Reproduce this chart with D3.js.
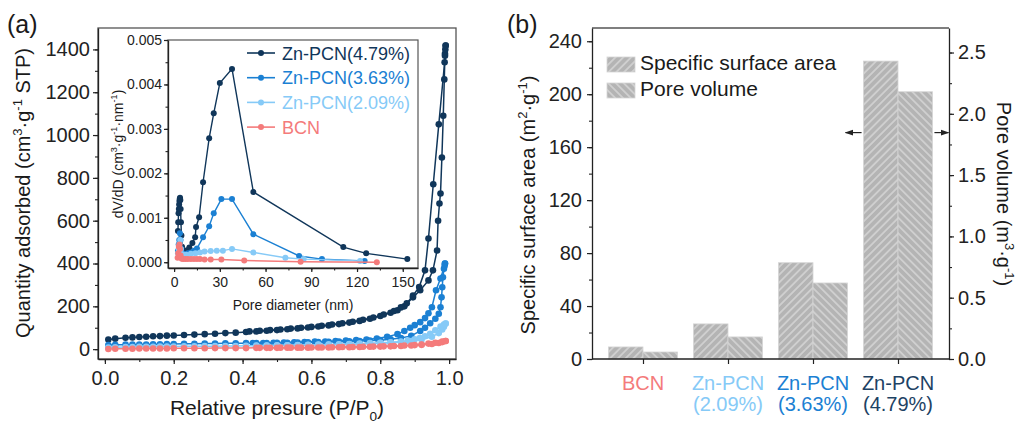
<!DOCTYPE html>
<html>
<head>
<meta charset="utf-8">
<script src="https://cdn.jsdelivr.net/npm/d3@7"></script>
<style>
  body { margin: 0; background: #fff; }
  svg text { font-family: Arial, "Liberation Sans", sans-serif; fill: #1a1a1a; }
</style>
</head>
<body>
<script>
// ---------------- data ----------------
const seriesNames = ['Zn-PCN(4.79%)', 'Zn-PCN(3.63%)', 'Zn-PCN(2.09%)', 'BCN'];
const seriesColors = ['#10365a', '#1b80d3', '#86caf7', '#f47b7b'];

// N2 isotherms [P/P0, quantity]
const ads479 = [[0.01,45],[0.03,49],[0.06,53],[0.08,55],[0.10,57],[0.12,58],[0.14,60],[0.16,61],[0.18,63],[0.20,64],[0.23,66],[0.26,68],[0.29,70],[0.32,72],[0.35,75],[0.38,77],[0.41,80],[0.44,83],[0.47,86],[0.50,89],[0.53,93],[0.56,97],[0.59,101],[0.62,106],[0.65,111],[0.68,117],[0.71,124],[0.74,132],[0.77,142],[0.80,155],[0.83,170],[0.85,182],[0.87,200],[0.895,242],[0.916,275],[0.94,321],[0.953,368],[0.965,461],[0.968,600],[0.972,680],[0.975,727],[0.979,895],[0.983,1090],[0.986,1260],[0.988,1380],[0.99,1418]];
const des479 = [[0.99,1418],[0.989,1400],[0.988,1370],[0.987,1340],[0.97,1050],[0.954,770],[0.94,517],[0.93,368],[0.913,290],[0.895,250],[0.877,214],[0.86,195],[0.84,178],[0.81,162],[0.78,148],[0.75,137],[0.72,128],[0.69,121],[0.66,115],[0.63,109],[0.60,104],[0.57,100],[0.54,96],[0.51,92],[0.48,89],[0.45,86],[0.42,83]];
const ads363 = [[0.01,19],[0.03,20],[0.06,21],[0.08,21],[0.10,22],[0.12,22],[0.14,23],[0.16,23],[0.18,24],[0.20,24],[0.23,25],[0.26,25],[0.29,26],[0.32,26],[0.35,27],[0.38,27],[0.41,28],[0.44,28],[0.47,29],[0.50,30],[0.53,30],[0.56,31],[0.59,32],[0.62,33],[0.65,34],[0.68,35],[0.71,37],[0.74,38],[0.77,40],[0.80,42],[0.83,46],[0.86,52],[0.89,62],[0.916,85],[0.93,100],[0.945,121],[0.96,142],[0.97,165],[0.975,196],[0.978,242],[0.98,289],[0.982,336],[0.985,375],[0.988,400]];
const des363 = [[0.988,400],[0.987,390],[0.975,330],[0.962,275],[0.95,196],[0.94,168],[0.93,145],[0.916,126],[0.90,112],[0.887,100],[0.87,85],[0.85,70],[0.82,58],[0.79,50],[0.76,45],[0.73,42],[0.70,40],[0.67,38],[0.64,36],[0.61,35],[0.58,33],[0.55,32],[0.52,31],[0.49,30],[0.46,29],[0.43,29]];
const ads209 = [[0.01,8],[0.03,9],[0.06,10],[0.08,10],[0.10,11],[0.12,11],[0.14,11],[0.16,12],[0.18,12],[0.20,12],[0.23,13],[0.26,13],[0.29,14],[0.32,14],[0.35,15],[0.38,15],[0.41,16],[0.44,16],[0.47,17],[0.50,17],[0.53,18],[0.56,18],[0.59,19],[0.62,20],[0.65,21],[0.68,22],[0.71,23],[0.74,24],[0.77,26],[0.80,28],[0.83,30],[0.86,33],[0.89,38],[0.92,45],[0.95,58],[0.97,75],[0.98,92],[0.985,105],[0.99,120]];
const des209 = [[0.99,120],[0.985,115],[0.975,105],[0.96,88],[0.945,72],[0.93,60],[0.915,52],[0.90,46],[0.88,40],[0.86,36],[0.83,32],[0.80,30],[0.77,28],[0.74,26],[0.71,24],[0.68,23],[0.65,22],[0.62,21],[0.59,20],[0.56,19],[0.53,18],[0.50,18],[0.47,17],[0.44,17]];
const adsBCN = [[0.01,1],[0.03,2],[0.06,2],[0.08,2],[0.10,3],[0.12,3],[0.14,3],[0.16,3],[0.18,3],[0.20,4],[0.23,4],[0.26,4],[0.29,4],[0.32,5],[0.35,5],[0.38,5],[0.41,5],[0.44,6],[0.47,6],[0.50,6],[0.53,7],[0.56,7],[0.59,7],[0.62,8],[0.65,8],[0.68,9],[0.71,9],[0.74,10],[0.77,11],[0.80,12],[0.83,13],[0.86,15],[0.89,17],[0.92,20],[0.95,24],[0.97,29],[0.98,33],[0.99,38]];
const desBCN = [[0.99,38],[0.98,35],[0.96,30],[0.94,26],[0.92,22],[0.90,19],[0.87,17],[0.84,15],[0.81,13],[0.78,12],[0.75,11],[0.72,10],[0.69,10],[0.66,9],[0.63,8],[0.60,8],[0.57,7],[0.54,7],[0.51,7],[0.48,6],[0.45,6]];

// pore size distribution [diameter nm, dV/dD]
const psd479 = [[2.5,0.0007],[2.7,0.0009],[2.9,0.0011],[3.1,0.0012],[3.3,0.0013],[3.5,0.00138],[3.7,0.00143],[3.9,0.00145],[4.1,0.0014],[4.3,0.0012],[4.5,0.0009],[4.8,0.0006],[5.2,0.00035],[6.5,0.00025],[8.5,0.00027],[10,0.00033],[12,0.00043],[13.8,0.00056],[14.4,0.00079],[16.4,0.00101],[19,0.0018],[23,0.00279],[26,0.00335],[30,0.00403],[38,0.00435],[52,0.00158],[111,0.00034],[126,0.0002],[153,0.00007]];
const psd363 = [[2.5,0.00025],[3.0,0.0004],[3.4,0.0005],[3.8,0.00065],[4.2,0.0005],[4.6,0.0003],[5.5,0.0002],[7,0.00018],[9,0.0002],[11,0.00022],[13,0.00026],[15,0.00031],[19,0.00056],[23,0.00081],[26,0.0011],[31,0.00142],[38,0.00142],[52,0.00063],[82,0.00014],[97,0.00007],[125,0.00003]];
const psd209 = [[2.5,0.0002],[3,0.0003],[3.5,0.0004],[4,0.0005],[4.5,0.0003],[5.5,0.00018],[8,0.00017],[11,0.00019],[14,0.0002],[17,0.00022],[20,0.00024],[24,0.00025],[28,0.00026],[32,0.00026],[38,0.0003],[52,0.00022],[73,0.0001],[85,0.00007],[122,0.00003]];
const psdBCN = [[2.3,0.0001],[2.7,0.0002],[3.1,0.00035],[3.5,0.0004],[3.9,0.0003],[4.3,0.00015],[5,0.00008],[6,0.00007],[7.5,0.00007],[9,0.00007],[11,0.00007],[13,0.00007],[15,0.00007],[17,0.00007],[20,0.00006],[24,0.00006],[31,0.00006],[46,0.00004],[83,0.00001],[133,0.0]];

// panel b
const categories = ['BCN', 'Zn-PCN (2.09%)', 'Zn-PCN (3.63%)', 'Zn-PCN (4.79%)'];
const catColors = ['#f47b7b', '#86caf7', '#1b80d3', '#1d4264'];
const surfaceArea = [9.1, 26.5, 72.7, 225];
const poreVolume = [0.057, 0.18, 0.62, 2.18];
const arrowLevel = 171; // on the surface-area axis

const isotherms = [[ads479, des479], [ads363, des363], [ads209, des209], [adsBCN, desBCN]];
const psds = [psd479, psd363, psd209, psdBCN];

// ---------------- drawing ----------------
const svg = d3.select('body').append('svg')
    .attr('width', 1018)
    .attr('height', 424);
svg.append('rect').attr('width', 1018).attr('height', 424).attr('fill', '#fff');

const ink = '#222';

// text with sup/sub parts: [string, 'n' | 'sup' | 'sub']
function rich(t, parts, small) {
    let shift = 0;
    parts.forEach(p => {
        let target = p[1] == 'sup' ? -0.42 : (p[1] == 'sub' ? 0.3 : 0);
        let fs = +t.attr('font-size');
        let ts = t.append('tspan').text(p[0]).attr('dy', ((target - shift) * fs) + 'px');
        if (p[1] != 'n') ts.attr('font-size', small || fs * 0.65);
        shift = target;
    });
}

function styleAxis(g, size) {
    g.attr('font-family', null).attr('font-size', null).attr('fill', null);
    g.select('.domain').attr('stroke', ink).attr('stroke-width', 1.3);
    g.selectAll('.tick line').attr('stroke', ink).attr('stroke-width', 1.2);
    g.selectAll('.tick text').attr('font-size', size).style('fill', ink);
}

function minor(g, gen) {
    g.call(gen);
    g.select('.domain').remove();
    g.selectAll('text').remove();
    g.selectAll('.tick line').attr('stroke', ink).attr('stroke-width', 1.1);
}

// ===== panel (a) =====
const xA = d3.scaleLinear().domain([-0.02, 1.02]).range([98, 456]);
const yA = d3.scaleLinear().domain([-46, 1500]).range([359, 28]);

svg.append('rect')
    .attr('x', 98).attr('y', 28).attr('width', 358).attr('height', 331)
    .attr('fill', 'none').attr('stroke', '#555').attr('stroke-width', 1.3);

let g = svg.append('g').attr('transform', 'translate(0,359)');
minor(g, d3.axisBottom(xA).tickValues(d3.range(0, 1.01, 0.1)).tickSize(3).tickSizeOuter(0));
g = svg.append('g').attr('transform', 'translate(0,359)')
    .call(d3.axisBottom(xA).tickValues([0, 0.2, 0.4, 0.6, 0.8, 1.0]).tickFormat(d3.format('.1f')).tickSize(5).tickSizeOuter(0).tickPadding(7));
styleAxis(g, 20);

g = svg.append('g').attr('transform', 'translate(98,0)');
minor(g, d3.axisLeft(yA).tickValues(d3.range(0, 1401, 100)).tickSize(3).tickSizeOuter(0));
g = svg.append('g').attr('transform', 'translate(98,0)')
    .call(d3.axisLeft(yA).tickValues(d3.range(0, 1401, 200)).tickFormat(d3.format('d')).tickSize(5).tickSizeOuter(0).tickPadding(3));
styleAxis(g, 20);

const lineA = d3.line().x(d => xA(d[0])).y(d => yA(d[1]));
isotherms.forEach((branches, i) => {
    branches.forEach(b => {
        svg.append('path').datum(b)
            .attr('d', lineA)
            .attr('fill', 'none')
            .attr('stroke', seriesColors[i])
            .attr('stroke-width', 1.5);
        svg.append('g').selectAll('circle')
            .data(b)
            .enter()
          .append('circle')
            .attr('cx', d => xA(d[0]))
            .attr('cy', d => yA(d[1]))
            .attr('r', 3.3)
            .attr('fill', seriesColors[i]);
    });
});

let t = svg.append('text').attr('font-size', 20).attr('text-anchor', 'middle')
    .attr('transform', 'translate(30,193) rotate(-90)');
rich(t, [['Quantity adsorbed (cm', 'n'], ['3', 'sup'], ['·g', 'n'], ['-1', 'sup'], [' STP)', 'n']]);
t = svg.append('text').attr('font-size', 21).attr('text-anchor', 'middle')
    .attr('x', 277).attr('y', 415);
rich(t, [['Relative presure (P/P', 'n'], ['0', 'sub'], [')', 'n']]);
svg.append('text').attr('x', 7).attr('y', 33).attr('font-size', 25).text('(a)');

// ----- inset -----
const xI = d3.scaleLinear().domain([-4, 160]).range([168, 418]);
const yI = d3.scaleLinear().domain([-0.00013, 0.005]).range([268, 40]);

svg.append('rect')
    .attr('x', 168).attr('y', 40).attr('width', 250).attr('height', 228)
    .attr('fill', '#fff').attr('stroke', '#555').attr('stroke-width', 1.2);

g = svg.append('g').attr('transform', 'translate(0,268)');
minor(g, d3.axisBottom(xI).tickValues(d3.range(0, 151, 15)).tickSize(2.5).tickSizeOuter(0));
g = svg.append('g').attr('transform', 'translate(0,268)')
    .call(d3.axisBottom(xI).tickValues(d3.range(0, 151, 30)).tickFormat(d3.format('d')).tickSize(4).tickSizeOuter(0).tickPadding(5));
styleAxis(g, 14);
g = svg.append('g').attr('transform', 'translate(168,0)');
minor(g, d3.axisLeft(yI).tickValues(d3.range(0, 0.00501, 0.0005)).tickSize(2.5).tickSizeOuter(0));
g = svg.append('g').attr('transform', 'translate(168,0)')
    .call(d3.axisLeft(yI).tickValues([0, 0.001, 0.002, 0.003, 0.004, 0.005]).tickFormat(d3.format('.3f')).tickSize(4).tickSizeOuter(0).tickPadding(2));
styleAxis(g, 14);

const lineI = d3.line().x(d => xI(d[0])).y(d => yI(d[1]));
psds.forEach((s, i) => {
    svg.append('path').datum(s)
        .attr('d', lineI)
        .attr('fill', 'none')
        .attr('stroke', seriesColors[i])
        .attr('stroke-width', 1.4);
    svg.append('g').selectAll('circle')
        .data(s)
        .enter()
      .append('circle')
        .attr('cx', d => xI(d[0]))
        .attr('cy', d => yI(d[1]))
        .attr('r', 3)
        .attr('fill', seriesColors[i]);
});

t = svg.append('text').attr('font-size', 14).attr('text-anchor', 'middle')
    .attr('transform', 'translate(123,154) rotate(-90)');
rich(t, [['dV/dD (cm', 'n'], ['3', 'sup'], ['·g', 'n'], ['-1', 'sup'], ['·nm', 'n'], ['-1', 'sup'], [')', 'n']]);
svg.append('text').attr('font-size', 14).attr('text-anchor', 'middle')
    .attr('x', 293).attr('y', 310).text('Pore diameter (nm)');

// inset legend
const leg = svg.append('g').selectAll('g')
    .data(seriesNames)
    .enter()
  .append('g')
    .attr('transform', (d, i) => 'translate(247,' + (53 + i * 24.7) + ')');
leg.append('line').attr('x1', 0).attr('x2', 28)
    .attr('stroke', (d, i) => seriesColors[i]).attr('stroke-width', 1.6);
leg.append('circle').attr('cx', 14).attr('r', 3).attr('fill', (d, i) => seriesColors[i]);
leg.append('text').attr('x', 35).attr('y', 6.5).attr('font-size', 18)
    .style('fill', (d, i) => seriesColors[i])
    .text(d => d);

// ===== panel (b) =====
const xB = d3.scalePoint().domain(categories).range([592, 949]).padding(0.6);
const yL = d3.scaleLinear().domain([0, 250]).range([359, 28]);
const yR = d3.scaleLinear().domain([0, 2.7]).range([359, 28]);
const bw = xB.step() * 0.405;

const defs = svg.append('defs');
function hatch(id, angle) {
    const p = defs.append('pattern').attr('id', id)
        .attr('patternUnits', 'userSpaceOnUse')
        .attr('width', 5.5).attr('height', 5.5)
        .attr('patternTransform', 'rotate(' + angle + ')');
    p.append('rect').attr('width', 5.5).attr('height', 5.5).attr('fill', '#b4b4b4');
    p.append('line').attr('x1', 2.75).attr('x2', 2.75).attr('y1', 0).attr('y2', 5.5)
        .attr('stroke', '#dadada').attr('stroke-width', 1.3);
}
hatch('hatchArea', 45);
hatch('hatchVol', -45);

svg.append('line').attr('x1', 592).attr('x2', 949).attr('y1', 28).attr('y2', 28)
    .attr('stroke', '#555').attr('stroke-width', 1.3);

svg.append('g').selectAll('rect')
    .data(surfaceArea)
    .enter()
  .append('rect')
    .attr('x', (d, i) => xB(categories[i]) - bw)
    .attr('y', d => yL(d))
    .attr('width', bw)
    .attr('height', d => yL(0) - yL(d))
    .attr('fill', 'url(#hatchArea)')
    .attr('stroke', '#d4d4d4').attr('stroke-width', 0.8);
svg.append('g').selectAll('rect')
    .data(poreVolume)
    .enter()
  .append('rect')
    .attr('x', (d, i) => xB(categories[i]))
    .attr('y', d => yR(d))
    .attr('width', bw)
    .attr('height', d => yR(0) - yR(d))
    .attr('fill', 'url(#hatchVol)')
    .attr('stroke', '#d4d4d4').attr('stroke-width', 0.8);

g = svg.append('g').attr('transform', 'translate(592,0)');
minor(g, d3.axisLeft(yL).tickValues(d3.range(0, 241, 20)).tickSize(3).tickSizeOuter(0));
g = svg.append('g').attr('transform', 'translate(592,0)')
    .call(d3.axisLeft(yL).tickValues(d3.range(0, 241, 40)).tickSize(5).tickSizeOuter(0).tickPadding(5));
styleAxis(g, 20);
g = svg.append('g').attr('transform', 'translate(949,0)');
minor(g, d3.axisRight(yR).tickValues(d3.range(0, 2.51, 0.25)).tickSize(3).tickSizeOuter(0));
g = svg.append('g').attr('transform', 'translate(949,0)')
    .call(d3.axisRight(yR).tickValues([0, 0.5, 1.0, 1.5, 2.0, 2.5]).tickFormat(d3.format('.1f')).tickSize(5).tickSizeOuter(0).tickPadding(4));
styleAxis(g, 20);
g = svg.append('g').attr('transform', 'translate(0,359)')
    .call(d3.axisBottom(xB).tickSize(5).tickSizeOuter(0).tickFormat(''));
styleAxis(g, 20);
g.select('.domain').attr('d', 'M592,0H949');

// category labels, two lines
const cl = svg.append('g').selectAll('text')
    .data(categories)
    .enter()
  .append('text')
    .attr('font-size', 20)
    .attr('text-anchor', 'middle')
    .style('fill', (d, i) => catColors[i]);
cl.each(function (d) {
    const lines = d.split(' ');
    const el = d3.select(this);
    lines.forEach((s, k) => {
        el.append('tspan').attr('x', xB(d)).attr('y', 390 + k * 21).text(s);
    });
});

// arrows pointing to the axes
defs.append('marker').attr('id', 'arrowHead')
    .attr('viewBox', '0 0 10 10').attr('refX', 9).attr('refY', 5)
    .attr('markerWidth', 7).attr('markerHeight', 7).attr('orient', 'auto')
    .append('path').attr('d', 'M0,1.5L10,5L0,8.5Z').attr('fill', ink);
const big = categories[3];
svg.append('line')
    .attr('x1', xB(big) - bw - 2).attr('x2', xB(big) - bw - 18)
    .attr('y1', yL(arrowLevel)).attr('y2', yL(arrowLevel))
    .attr('stroke', ink).attr('stroke-width', 1.2).attr('marker-end', 'url(#arrowHead)');
svg.append('line')
    .attr('x1', xB(big) + bw + 2).attr('x2', xB(big) + bw + 16)
    .attr('y1', yL(arrowLevel)).attr('y2', yL(arrowLevel))
    .attr('stroke', ink).attr('stroke-width', 1.2).attr('marker-end', 'url(#arrowHead)');

// legend b
const legB = [['Specific surface area', 'url(#hatchArea)'], ['Pore volume', 'url(#hatchVol)']];
legB.forEach((d, i) => {
    svg.append('rect').attr('x', 607).attr('y', 57 + i * 26).attr('width', 28).attr('height', 15)
        .attr('fill', d[1]).attr('stroke', '#d4d4d4').attr('stroke-width', 0.8);
    svg.append('text').attr('x', 640).attr('y', 70 + i * 26).attr('font-size', 21).text(d[0]);
});

t = svg.append('text').attr('font-size', 20).attr('text-anchor', 'middle')
    .attr('transform', 'translate(535,205) rotate(-90)');
rich(t, [['Specific surface area (m', 'n'], ['2', 'sup'], ['·g', 'n'], ['-1', 'sup'], [')', 'n']]);
t = svg.append('text').attr('font-size', 20).attr('text-anchor', 'middle')
    .attr('transform', 'translate(997,194) rotate(90)');
rich(t, [['Pore volume (m', 'n'], ['3', 'sup'], ['·g', 'n'], ['-1', 'sup'], [')', 'n']]);
svg.append('text').attr('x', 507).attr('y', 33).attr('font-size', 25).text('(b)');
</script>
</body>
</html>
